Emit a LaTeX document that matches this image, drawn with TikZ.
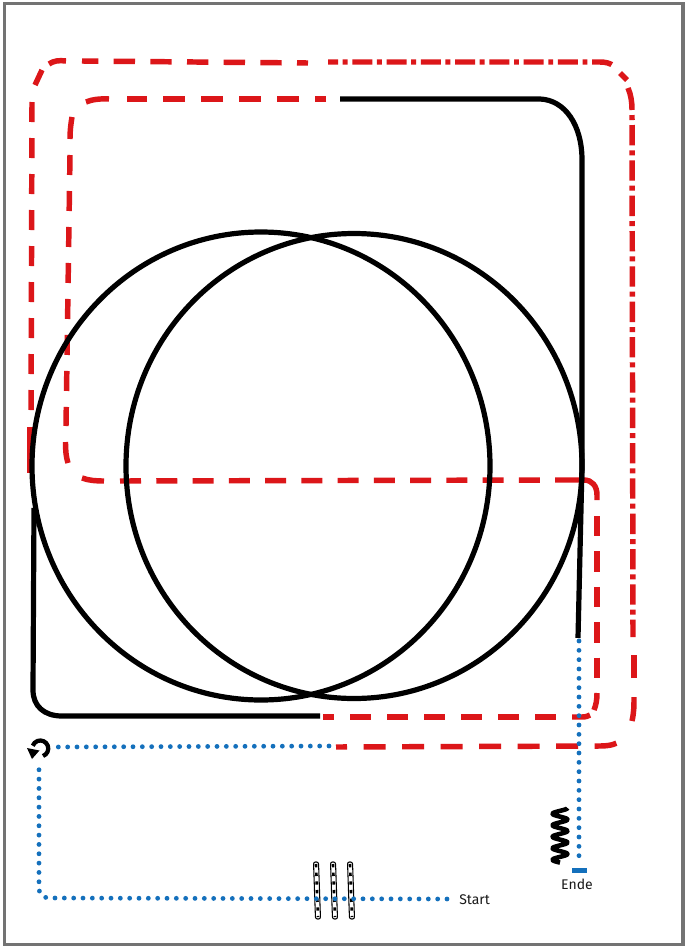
\documentclass[tikz,border=0pt]{standalone}
\usepackage{fontspec}
\setmainfont{Fira Sans}
\definecolor{rd}{HTML}{DC1619}
\definecolor{bl}{HTML}{1470BC}
\tikzset{
  x=0.75pt,y=-0.75pt,
  frame/.style={draw=black!55,line width=2.4pt},
  trackblack/.style={draw=black,line width=3.9pt},
  redbase/.style={draw=rd,line width=4.1pt},
  bluedot/.style={draw=bl,line width=3.6pt,line cap=round,dash pattern=on 0pt off 7pt},
  gatebox/.style={draw=black,line width=0.8pt,fill=white,rounded corners=1.5pt},
  gatefill/.style={draw=black,line width=2pt,dash pattern=on 2.5pt off 4pt},
  lab/.style={font=\fontsize{10.5pt}{12pt}\selectfont,inner sep=0pt,text=black!90}
}
\begin{document}
\begin{tikzpicture}
\useasboundingbox (0,0) rectangle (686,946);
\fill[white] (0,0) rectangle (686,946);
\draw[frame] (4.5,3.5) rectangle (683,945);

% outer red, dashed bottom
\draw[redbase,dash pattern=on 16.5pt off 12.4pt,dash phase=8.25pt] (336,747) -- (600,746) .. controls (610,746) and (617,744) .. (622,740);
\draw[redbase] (632,721) .. controls (634,712) and (634,706) .. (634,697);
\draw[redbase] (634,678) -- (634,655);
% outer red, dash-dot right side
\draw[redbase,dash pattern=on 15.25pt off 3.75pt on 3.75pt off 3.75pt,dash phase=2.25pt] (633,637) -- (632,114);
\draw[redbase] (632,110) .. controls (632,102) and (631,95) .. (628,88);
\draw[redbase] (627,80) -- (620,73);
% outer red, dash-dot top
\draw[redbase,dash pattern=on 15pt off 3.5pt on 3.7pt off 3.5pt,dash phase=7.5pt] (328,62) -- (600,62) .. controls (605,62) and (610,63) .. (614,66);
% outer red, dashed left
\draw[redbase,dash pattern=on 16pt off 11.5pt,dash phase=7.75pt] (308,63) -- (82,61);
\draw[redbase] (66,61) .. controls (59,60) and (53,61) .. (49,64);
\draw[redbase] (42,70) -- (35,85);
\draw[redbase,dash pattern=on 15pt off 12pt] (32,102) -- (31,424);
\draw[redbase] (30,427) -- (30,473);

% inner red
\draw[redbase,dash pattern=on 16.5pt off 12pt,dash phase=8.25pt] (326,99) -- (127,99);
\draw[redbase] (109,99) .. controls (100,98.5) and (92,99.5) .. (86,102);
\draw[redbase] (72,117) .. controls (71,123) and (70,130) .. (70,139);
\draw[redbase,dash pattern=on 15pt off 12pt] (70,155) -- (66,426);
\draw[redbase] (65.5,442) .. controls (65.5,450) and (66,457) .. (68,463);
\draw[redbase] (82,478) .. controls (89,480.5) and (96,481) .. (104,481);
\draw[redbase,dash pattern=on 15.75pt off 11.44pt] (120,481) -- (555,480);
\draw[redbase] (555,480) -- (584,480) .. controls (592,480) and (597,486) .. (597,495) -- (597,500);
\draw[redbase,dash pattern=on 15.25pt off 11.3pt] (597,516) -- (597,692);
\draw[redbase] (597,693) .. controls (597,700) and (596,705) .. (594,710);
\draw[redbase] (572,717) -- (582,717) .. controls (586,717) and (588,716) .. (590,715);
\draw[redbase,dash pattern=on 15.75pt off 12pt,dash phase=7.5pt] (323,717) -- (557,717);

% black track
\draw[trackblack] (261,466) ellipse[x radius=229,y radius=234];
\draw[trackblack] (354,466) ellipse[x radius=228,y radius=232.5];
\draw[trackblack] (340,99) -- (540,99) .. controls (565,100) and (582,125) .. (582,160) -- (582,466) -- (578,638);
\draw[trackblack] (34,508) -- (33,690) .. controls (33,706) and (44,716) .. (62,716) -- (320,716);

% gates
\foreach \xa/\xb/\n in {316/318/a,333/335/b,350/352/c}{
  \draw[gatebox] (\xa-2.5,862) -- (\xa+2.5,862) -- (\xb+2.5,919) -- (\xb-2.5,919) -- cycle;
  \draw[gatefill] (\xa,864) -- (\xb,917);
}

% blue tracks
\draw[bluedot] (447,899) -- (50,898) .. controls (44,898) and (39,895) .. (39,888) -- (39,762);
\draw[bluedot] (329,746) -- (54,747);
\draw[bluedot] (579,641) -- (579,864);
\fill[bl] (572,868) rectangle (587,873);

% turn arrow
\draw[draw=black,line width=3.2pt] (43,756) arc[start angle=70,end angle=-160,x radius=8,y radius=8];
\fill[black] (27,748) -- (39.5,750.5) -- (32,759) -- cycle;

% spring
\draw[draw=black,line width=3.4pt,line join=round] plot[smooth,domain=0:4.75,samples=80,variable=\t] ({560+7.5*cos(360*\t)},{808+11.5*\t});

% labels
\node[lab,anchor=west] (start) at (459,900) {Start};
\node[lab,anchor=center] (ende) at (577,884) {Ende};
\end{tikzpicture}
\end{document}
